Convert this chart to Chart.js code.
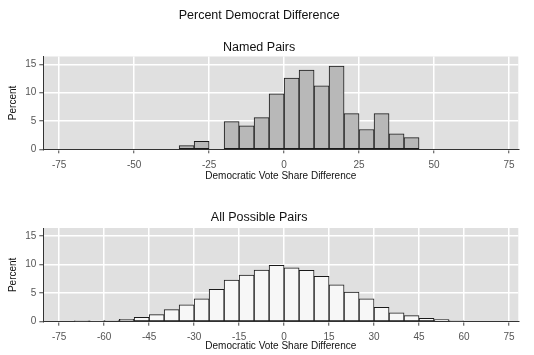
<!DOCTYPE html>
<html>
<head>
<meta charset="utf-8">
<script src="https://cdn.jsdelivr.net/npm/chart.js@4"></script>
<style>
  html, body { margin: 0; padding: 0; background: #fff; }
  #wrap { position: relative; width: 534px; height: 355px; }
  .box { position: absolute; left: 0; width: 534px; }
</style>
</head>
<body>
<div id="wrap">
  <div class="box" style="top:0;height:185px"><canvas id="namedChart"></canvas></div>
  <div class="box" style="top:185px;height:170px"><canvas id="allChart"></canvas></div>
</div>
<script>
// bin centres (width 5) and percent per bin
const namedCenters = [-32.5, -27.5, -17.5, -12.5, -7.5, -2.5, 2.5, 7.5, 12.5, 17.5, 22.5, 27.5, 32.5, 37.5, 42.5];
const namedPct = [0.65, 1.4, 4.9, 4.15, 5.6, 9.8, 12.6, 14.0, 11.2, 14.7, 6.3, 3.5, 6.3, 2.75, 2.05];

const allCenters = [-67.5, -62.5, -57.5, -52.5, -47.5, -42.5, -37.5, -32.5, -27.5, -22.5, -17.5, -12.5, -7.5, -2.5,
  2.5, 7.5, 12.5, 17.5, 22.5, 27.5, 32.5, 37.5, 42.5, 47.5, 52.5, 57.5];
const allPct = [0.1, 0.15, 0.2, 0.4, 0.75, 1.25, 2.1, 2.95, 4.0, 5.65, 7.3, 8.15, 9.05, 9.85,
  9.45, 9.0, 7.95, 6.45, 5.2, 4.0, 2.5, 1.55, 1.05, 0.6, 0.35, 0.1];

const namedTicks = [-75, -50, -25, 0, 25, 50, 75];
const allTicks = [-75, -60, -45, -30, -15, 0, 15, 30, 45, 60, 75];
const yTicks = [0, 5, 10, 15];

const FONT = "'Liberation Sans', Arial, sans-serif";

const plotBg = {
  id: "plotBg",
  beforeDraw(chart) {
    const { ctx, chartArea: a } = chart;
    ctx.save();
    ctx.fillStyle = "#e0e0e0";
    ctx.fillRect(a.left, a.top, a.right - a.left, a.bottom - a.top);
    ctx.restore();
  }
};

function makeChart(id, centers, pct, xTicks, fill, titles, axisH) {
  return new Chart(document.getElementById(id), {
    type: "bar",
    data: {
      datasets: [{
        data: centers.map((x, i) => ({ x: x, y: pct[i] })),
        backgroundColor: fill,
        borderColor: "#1a1a1a",
        borderWidth: 1,
        borderSkipped: false,
        barPercentage: 1,
        categoryPercentage: 1
      }]
    },
    options: {
      responsive: true,
      maintainAspectRatio: false,
      animation: false,
      layout: { padding: { left: 0, right: 15.7, top: 0, bottom: 0 } },
      plugins: {
        legend: { display: false },
        tooltip: { enabled: false },
        title: titles.main,
        subtitle: titles.sub
      },
      scales: {
        x: {
          type: "linear",
          min: -80.3,
          max: 78.1,
          offset: false,
          afterFit: s => { s.height = axisH; },
          afterBuildTicks: s => { s.ticks = xTicks.map(v => ({ value: v })); },
          grid: { offset: false, color: "#ffffff", lineWidth: 1.5, tickColor: "#444", tickWidth: 1, tickLength: 4 },
          border: { color: "#333", width: 1 },
          ticks: { color: "#555", font: { family: FONT, size: 10 }, padding: 5.5, maxRotation: 0, autoSkip: false },
          title: { display: true, text: "Democratic Vote Share Difference", color: "#111",
            font: { family: FONT, size: 10 }, padding: { top: 0, bottom: 2.5 } }
        },
        y: {
          min: 0,
          max: 16.4,
          afterFit: s => { s.width = 43.3; },
          afterBuildTicks: s => { s.ticks = yTicks.map(v => ({ value: v })); },
          grid: { color: "#ffffff", lineWidth: 1.5, tickColor: "#444", tickWidth: 1, tickLength: 4 },
          border: { color: "#333", width: 1 },
          ticks: { color: "#555", font: { family: FONT, size: 10 }, padding: 3 },
          title: { display: true, text: "Percent", color: "#111",
            font: { family: FONT, size: 10 }, padding: { top: 7, bottom: 0 } }
        }
      }
    },
    plugins: [plotBg]
  });
}

makeChart("namedChart", namedCenters, namedPct, namedTicks, "#b8b8b8", {
  main: { display: true, text: "Percent Democrat Difference", color: "#111",
    font: { family: FONT, size: 12.5, weight: "normal" }, padding: { top: 8, bottom: 17 } },
  sub: { display: true, text: "Named Pairs", color: "#111",
    font: { family: FONT, size: 12.5, weight: "normal" }, padding: { top: 0, bottom: 1.5 } }
}, 35.7);

makeChart("allChart", allCenters, allPct, allTicks, "#f7f7f7", {
  main: { display: false },
  sub: { display: true, text: "All Possible Pairs", color: "#111",
    font: { family: FONT, size: 12.5, weight: "normal" }, padding: { top: 25, bottom: 3 } }
}, 33.3);
</script>
</body>
</html>
